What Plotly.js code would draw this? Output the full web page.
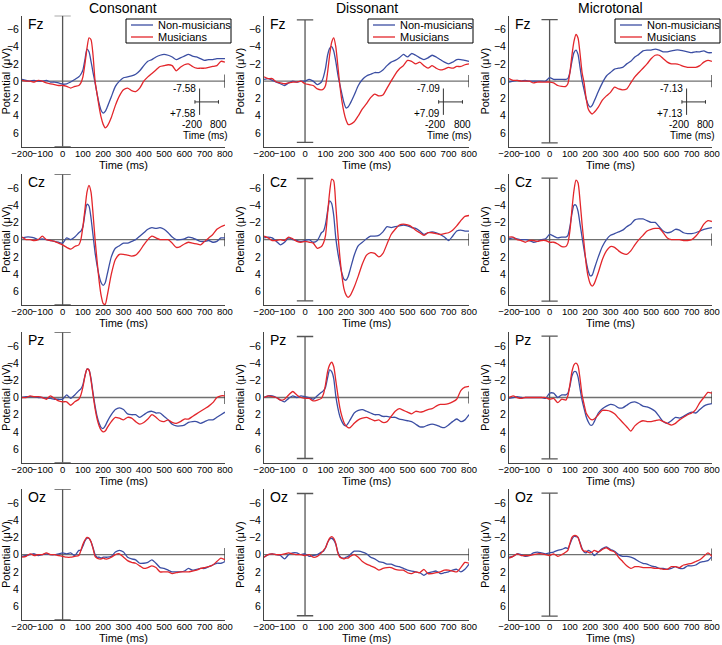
<!DOCTYPE html>
<html><head><meta charset="utf-8">
<script src="https://cdn.plot.ly/plotly-3.0.1.min.js"></script>
<style>body{margin:0;background:#fff}#chart{width:722px;height:645px}</style>
</head><body><div id="chart"></div>
<script>
// time points (ms)
const times = [-200,-180,-160,-140,-120,-100,-80,-60,-40,-20,0,20,40,60,80,
  90,100,110,120,130,140,150,160,170,180,190,200,210,220,
  240,260,280,300,320,340,360,380,400,420,440,460,480,500,520,540,560,580,600,620,640,660,680,700,720,740,760,780,800];

const conditions = ["Consonant","Dissonant","Microtonal"];
const electrodes = ["Fz","Cz","Pz","Oz"];
const groups = ["Non-musicians","Musicians"];
const scaleLimits = [7.58, 7.09, 7.13];
const xTickVals = [-200,-100,0,100,200,300,400,500,600,700,800];
const yTickVals = [-6,-4,-2,0,2,4,6];

// Consonant
const consonantFzNon = [-0.2,-0.1,0,-0.1,0,0,-0.1,0.1,0.1,0.2,0.35,0.3,0.1,-0.2,-0.5,
  -0.8,-1.3,-2.5,-3.7,-3.4,-2.3,-1.0,0.2,1.5,2.6,3.4,3.7,3.5,3.0,
  1.8,0.6,0,-0.4,-0.5,-0.6,-0.8,-1.2,-1.8,-2.3,-2.5,-2.8,-3.0,-3.1,-3.0,-2.8,-2.5,-2.7,-2.9,-3.1,-2.9,-2.8,-2.6,-2.4,-2.5,-2.5,-2.6,-2.6,-2.6];
const consonantFzMus = [-0.1,0,0,0.1,-0.1,0,0.2,0.3,0.4,0.5,0.5,0.6,0.8,0.6,0.5,
  0.2,-0.5,-2.0,-3.8,-5.0,-4.8,-3.0,0,1.5,3.0,4.2,5.0,5.4,5.2,
  4.2,2.8,1.7,1.0,0.8,1.1,1.2,0.8,0,-0.5,-0.9,-1.3,-1.7,-1.8,-1.9,-1.8,-1.2,-1.6,-1.9,-2.0,-1.7,-1.5,-1.5,-1.5,-1.6,-1.7,-1.8,-2.3,-2.2];
const consonantCzNon = [-0.2,-0.3,-0.3,-0.2,0,-0.1,0,0.1,0.2,0.3,0.4,-0.2,0,-0.3,-0.8,
  -1.0,-1.5,-3.0,-4.1,-3.9,-2.5,-0.5,1.5,3.0,4.2,5.0,5.3,5.0,4.0,
  2.0,1.0,0.7,0.4,0.4,0.2,0,-0.4,-0.8,-1.2,-1.4,-1.3,-1.4,-1.2,-0.8,-0.3,0,0,-0.1,-0.3,-0.2,0,0.2,0.2,0.1,0.3,0.2,-0.2,-0.2];
const consonantCzMus = [-0.3,0,0,0.1,0,-0.4,0,0.1,0.2,0.4,0.6,0.9,1.1,0.8,0.6,
  0,-1.5,-3.5,-5.5,-6.3,-5.5,-3.0,0,2.5,4.8,6.5,7.4,7.5,6.5,
  4.0,2.3,1.7,1.7,1.8,1.9,1.8,1.3,0.6,0,-0.4,-0.2,0,0,0,0.4,0.9,0.8,0.5,0.3,0.4,0.5,0.6,0.2,-0.2,-0.6,-1.2,-1.5,-1.7];
const consonantPzNon = [0,-0.1,-0.1,-0.1,0,0,0.1,0.1,0.2,0.2,0.2,-0.3,0.1,-0.3,-0.8,
  -1.0,-1.5,-2.5,-3.3,-3.2,-2.2,-0.5,1.0,2.2,3.0,3.5,3.6,3.3,2.8,
  2.0,1.4,1.2,1.4,1.9,2.0,2.0,2.3,2.0,1.7,1.6,1.8,1.8,2.2,2.6,3.1,3.3,3.3,3.2,2.9,2.8,2.8,3.0,2.8,2.6,2.6,2.3,2.0,1.7];
const consonantPzMus = [0,0,-0.2,-0.1,-0.1,0,0.2,-0.2,0.1,0.4,0.5,0.5,0.9,0.5,0.2,
  -0.3,-1.2,-2.5,-3.3,-3.2,-2.0,-0.3,1.3,2.5,3.3,3.8,4.0,3.9,3.5,
  2.8,2.3,2.4,2.6,2.3,2.4,2.8,3.1,2.9,2.5,2.0,2.3,2.7,2.8,2.6,2.9,3.0,2.8,2.5,2.5,2.2,1.9,1.6,1.3,1.0,0.6,0,-0.2,-0.2];
const consonantOzNon = [0.2,0.1,0,-0.1,0.1,0,-0.1,0,0,-0.1,-0.2,-0.1,-0.2,0.1,-0.5,
  -0.5,-1.0,-1.6,-1.9,-1.9,-1.5,-0.8,0,0.3,0.3,0.4,0.3,0.3,0.3,
  0.2,-0.3,-0.5,-0.3,0.3,0.5,0.6,1.0,1.0,0.9,0.6,1.0,1.5,1.6,1.8,2.0,2.0,2.0,1.9,1.6,1.8,1.7,1.6,1.6,1.4,1.2,1.0,1.0,0.8];
const consonantOzMus = [0.3,0.2,-0.1,0.1,0,0,-0.2,0,0,0.1,0.2,0.3,0.3,0.2,0.1,
  -0.5,-1.2,-1.7,-2.0,-1.9,-1.5,-0.7,0.2,0.4,0.5,0.5,0.4,0.5,0.5,
  0.3,0,-0.1,0.3,0.7,0.9,1.0,1.3,1.6,1.5,1.3,1.5,2.0,2.0,2.0,2.2,2.1,2.0,2.0,2.0,1.9,1.8,1.6,1.5,1.4,1.2,0.8,0.4,0.6];

// Dissonant
const dissonantFzNon = [-0.2,-0.3,-0.1,0.1,0.3,0.5,0.2,0,0.1,0,0,-0.2,0,0.4,0.1,
  -0.5,-1.5,-3.0,-3.8,-4.0,-3.5,-2.3,-0.8,0.4,1.5,2.5,3.1,3.0,2.6,
  1.6,0.5,-0.2,-0.6,-0.8,-1.0,-1.0,-1.3,-1.8,-2.2,-2.4,-2.7,-3.1,-2.8,-3.2,-3.0,-2.7,-2.5,-2.7,-3.0,-2.8,-2.5,-2.2,-2.0,-2.2,-2.5,-2.5,-2.4,-2.3];
const dissonantFzMus = [-0.5,-0.3,-0.3,0.1,0.2,0.3,0.2,0.1,0.1,0,0.3,0.4,0.5,0.9,1.0,
  0.9,0.5,-1.0,-3.0,-4.5,-5.0,-4.0,-1.8,0.5,2.3,3.6,4.5,5.0,5.0,
  4.7,4.0,3.2,2.6,1.9,1.5,1.7,1.6,0.8,0,-0.8,-1.4,-1.8,-2.4,-2.3,-2.0,-2.2,-1.8,-1.5,-1.8,-1.5,-1.3,-1.4,-1.6,-1.5,-1.7,-1.7,-1.9,-2.0];
const dissonantCzNon = [-0.2,-0.3,-0.2,0.2,0.6,0.3,-0.2,0,0.1,0.2,0.1,0,0.3,0.1,-0.8,
  -1.0,-1.8,-3.3,-4.5,-4.2,-2.8,-0.2,1.5,2.8,3.9,4.6,4.7,4.3,3.5,
  1.8,0.7,0.3,-0.1,-0.4,-0.4,-0.5,-0.9,-1.5,-1.4,-1.5,-1.6,-1.7,-1.6,-1.4,-1.3,-1.0,-0.6,-0.8,-0.9,-0.8,-0.6,-0.3,0.1,-0.4,-1.0,-1.1,-1.0,-1.0];
const dissonantCzMus = [-0.4,-0.2,0.1,0.1,0,0.1,-0.3,-0.1,0.2,0.3,0.2,0.3,0.4,1.0,0.8,
  0.4,-0.5,-3.0,-5.5,-7.0,-6.8,-4.0,-0.8,2.0,4.2,5.7,6.4,6.7,6.5,
  5.5,4.2,2.8,1.8,1.5,1.6,2.0,1.6,0.5,-0.6,-1.2,-1.7,-1.8,-1.7,-1.5,-1.1,-0.8,-0.5,-0.8,-0.8,-0.7,-0.6,-0.7,-0.8,-1.1,-1.6,-2.2,-2.7,-2.8];
const dissonantPzNon = [0,-0.2,-0.2,0,0.3,0.5,0.1,-0.2,0,-0.2,-0.1,0,0.2,-0.2,-0.6,
  -0.8,-1.2,-2.3,-3.2,-3.0,-2.2,-0.2,1.2,2.2,2.8,3.2,3.3,3.0,2.6,
  1.8,1.5,1.4,1.6,1.8,2.0,2.0,2.2,2.2,2.3,2.3,2.5,2.6,2.7,2.8,3.1,3.4,3.4,3.2,3.1,3.2,3.4,3.5,3.2,2.8,2.5,2.8,2.6,2.0];
const dissonantPzMus = [0,-0.2,-0.1,0,0.3,0.2,-0.3,-0.7,-0.3,0,0.1,0.1,0.4,0.3,0.1,
  -0.4,-1.5,-3.0,-3.8,-4.1,-3.6,-2.0,-0.3,1.2,2.2,2.9,3.3,3.5,3.5,
  3.0,2.6,2.4,2.3,2.5,2.7,2.6,2.9,2.8,2.2,1.6,1.3,1.5,1.7,1.9,1.6,1.7,1.6,1.4,1.3,1.0,0.8,0.8,0.7,0.5,0.2,-0.8,-1.2,-1.3];
const dissonantOzNon = [0.3,0,-0.1,0,0.1,0.5,0,-0.2,-0.2,0,-0.1,0.2,0.1,0,-0.3,
  -0.4,-0.8,-1.4,-1.8,-1.9,-1.7,-1.2,-0.3,0.2,0.4,0.4,0.3,0.2,0,
  -0.4,-0.4,-0.3,-0.1,0.3,0.5,0.8,0.9,1.1,1.1,1.3,1.4,1.6,1.8,1.9,2.0,2.1,2.4,2.1,2.0,1.9,2.2,2.1,2.0,1.8,1.7,2.0,1.7,1.1];
const dissonantOzMus = [0.3,0,-0.1,0,0,-0.1,-0.2,-0.1,0,0,0.1,0,0.3,0.2,-0.2,
  -0.5,-0.8,-1.4,-1.9,-2.1,-1.9,-1.3,-0.2,0.3,0.4,0.5,0.4,0.4,0.2,
  0,0.3,0.8,1.1,1.3,1.5,1.8,1.6,1.5,1.5,1.7,1.8,1.8,2.1,2.2,2.0,2.1,1.7,2.2,2.2,2.1,2.0,1.8,1.8,1.9,2.0,1.5,0.9,1.0];

// Microtonal
const microtonalFzNon = [0.1,0,-0.1,0,-0.1,0,0,0,0,0,-0.4,-0.2,-0.2,-0.2,-0.2,
  -0.3,-1.0,-2.3,-3.3,-3.6,-3.1,-1.6,-0.1,1.0,2.0,2.7,3.0,2.8,2.3,
  1.2,0.2,-0.6,-1.0,-1.4,-1.5,-1.6,-2.0,-2.3,-2.8,-3.1,-3.5,-3.6,-3.6,-3.7,-3.6,-3.4,-3.4,-3.5,-3.6,-3.6,-3.5,-3.4,-3.3,-3.4,-3.4,-3.5,-3.3,-3.3];
const microtonalFzMus = [-0.3,-0.1,-0.1,0,0,0,0.2,0.1,0.1,0.1,0.1,0.2,0.5,0.6,0.6,
  0.3,-1.0,-3.0,-4.6,-5.4,-5.0,-3.2,-1.0,0.2,2.0,3.2,3.6,3.8,3.6,
  3.0,2.2,1.7,1.3,0.7,0.9,1.0,0.9,0.2,-0.5,-1.0,-1.5,-2.0,-2.6,-3.0,-3.0,-2.6,-2.2,-2.0,-2.0,-1.9,-1.7,-1.6,-1.6,-1.6,-1.8,-2.2,-2.4,-2.3];
const microtonalCzNon = [-0.1,-0.2,-0.1,0,0,0.1,0.3,0.2,0,-0.1,-0.6,-0.4,-0.2,-0.3,-0.3,
  -0.5,-1.5,-3.0,-4.0,-4.0,-3.3,-1.8,-0.3,1.2,2.5,3.6,4.2,4.1,3.4,
  2.0,0.8,0,-0.5,-0.7,-0.9,-1.1,-1.5,-1.8,-2.3,-2.4,-2.4,-2.2,-2.0,-2.0,-1.5,-1.0,-0.8,-0.9,-1.2,-1.1,-0.8,-0.7,-0.7,-0.8,-1.0,-1.2,-1.3,-1.4];
const microtonalCzMus = [-0.3,-0.3,0,0.1,0.3,0.1,0.1,0.2,0.1,0.1,0.3,0.3,0.5,0.8,0.8,
  0.4,-1.0,-3.5,-5.7,-6.9,-6.6,-4.5,-1.8,0.5,2.8,4.3,5.1,5.4,5.1,
  3.8,2.3,1.3,0.8,0.9,1.3,1.6,1.7,1.3,0.6,0,-0.5,-1.0,-1.2,-1.3,-1.3,-0.8,-0.2,0,0,0,0.1,0.1,0,-0.4,-1.0,-1.8,-2.2,-2.1];
const microtonalPzNon = [0.1,0,-0.1,0,0,0,0,0,0,0.1,-0.5,-0.5,0,-0.3,-0.3,
  -0.5,-1.3,-2.5,-3.0,-3.0,-2.4,-1.0,0.3,1.3,2.2,2.8,3.2,3.2,2.8,
  1.8,1.3,1.0,0.8,0.9,1.2,1.2,0.9,0.6,0.5,0.7,1.0,1.1,1.3,1.6,2.2,2.8,3.0,2.7,2.3,2.4,2.2,1.9,1.7,1.8,1.4,1.0,0.8,0.7];
const microtonalPzMus = [0,-0.2,0,0.1,0,0,0,0,0,0,0.2,0.1,0.6,0.2,0.3,
  -0.2,-1.5,-3.0,-3.8,-4.0,-3.7,-2.2,-0.3,0.8,1.8,2.2,2.5,2.6,2.5,
  2.0,1.5,1.5,1.6,1.9,2.4,2.9,3.4,3.9,3.3,2.9,2.7,2.8,2.8,2.7,2.6,2.8,3.0,3.2,3.0,2.6,2.3,2.0,1.8,1.4,0.6,0,-0.6,-0.5];
const microtonalOzNon = [0.3,0.2,-0.1,0,0.2,0.1,-0.2,-0.3,-0.2,-0.1,-0.2,-0.3,-0.5,-0.6,-0.8,
  -0.7,-1.2,-1.8,-2.1,-2.1,-2.0,-1.4,-0.7,-0.3,-0.2,-0.5,-0.4,-0.2,0.1,
  -0.3,-0.7,-0.9,-0.6,-0.4,0,0.2,0.2,0.3,0.5,0.8,1.0,1.1,1.3,1.4,1.6,1.6,1.7,1.6,1.4,1.6,1.6,1.3,1.3,1.2,0.9,0.8,0.7,0.2];
const microtonalOzMus = [0.4,0.2,-0.1,0.1,0.1,0.1,0,-0.1,-0.1,0,0.1,-0.1,0.2,0,-0.3,
  -0.5,-1.3,-2.0,-2.2,-2.2,-2.0,-1.3,-0.6,-0.4,-0.4,-0.3,-0.2,-0.3,-0.5,
  -0.3,-0.6,-0.8,-0.5,-0.3,0.3,0.8,1.3,1.6,1.4,1.4,1.5,1.5,1.5,1.6,1.6,1.7,1.7,1.4,1.4,1.5,1.2,1.1,1.0,0.8,0.6,0.2,-0.2,0.2];

const series = {
  Consonant: {Fz:[consonantFzNon,consonantFzMus], Cz:[consonantCzNon,consonantCzMus], Pz:[consonantPzNon,consonantPzMus], Oz:[consonantOzNon,consonantOzMus]},
  Dissonant: {Fz:[dissonantFzNon,dissonantFzMus], Cz:[dissonantCzNon,dissonantCzMus], Pz:[dissonantPzNon,dissonantPzMus], Oz:[dissonantOzNon,dissonantOzMus]},
  Microtonal:{Fz:[microtonalFzNon,microtonalFzMus], Cz:[microtonalCzNon,microtonalCzMus], Pz:[microtonalPzNon,microtonalPzMus], Oz:[microtonalOzNon,microtonalOzMus]}
};

const FONT = 'Arial, "Liberation Sans", sans-serif';
const colors = ['#3b4ea3', '#e3262b'];
const colDomains = [[0.0305,0.3116],[0.3657,0.6496],[0.7050,0.9861]];
const rowDomains = [[0.7726,0.9757],[0.5271,0.7298],[0.2826,0.4848],[0.0388,0.2414]];
const yRange = [7.58, -7.58];
const legendLeftPx = [126, 368, 615];

const W = 722, H = 645;
const px = v => v / W, py = v => 1 - v / H;

const traces = [];
const layout = {
  width: W, height: H,
  margin: {l:0, r:0, t:0, b:0},
  paper_bgcolor: '#fff', plot_bgcolor: 'rgba(0,0,0,0)',
  font: {family: FONT, color: '#000', size: 10},
  showlegend: false,
  shapes: [], annotations: []
};

electrodes.forEach((el, r) => {
  conditions.forEach((cond, c) => {
    const k = r*3 + c + 1;
    const sx = k === 1 ? '' : String(k);
    const xa = 'x' + sx, ya = 'y' + sx;
    const lim = scaleLimits[c];
    series[cond][el].forEach((vals, g) => {
      if (vals.length !== times.length) throw new Error(cond+el+g+' length '+vals.length);
      traces.push({
        type: 'scatter', mode: 'lines', x: times, y: vals,
        xaxis: xa, yaxis: ya, name: groups[g],
        line: {color: colors[g], width: 1.3, shape: 'spline', smoothing: 0.6},
        hoverinfo: 'skip'
      });
    });
    layout['xaxis' + sx] = {
      domain: colDomains[c], anchor: ya, range: [-200, 800],
      tickvals: xTickVals, ticks: '', tickangle: 0, showgrid: false, zeroline: false,
      showline: true, linecolor: '#444', linewidth: 1,
      tickfont: {size: 9.5}, ticklabelstandoff: -2,
      title: {text: 'Time (ms)', font: {size: 11}, standoff: 0},
      automargin: false, fixedrange: true
    };
    layout['yaxis' + sx] = {
      domain: rowDomains[r], anchor: xa, range: yRange,
      tickvals: yTickVals, ticks: '', showgrid: false, zeroline: false,
      showline: true, linecolor: '#444', linewidth: 1,
      tickfont: {size: 10.5},
      title: {text: 'Potential (μV)', font: {size: 11}, standoff: 2},
      automargin: false, fixedrange: true
    };
    const L = (x0,y0,x1,y1,color,w) => layout.shapes.push({type:'line', xref:xa, yref:ya, x0, y0, x1, y1, line:{color, width:w}, layer:'below'});
    // baseline at zero with end cap
    L(-200, 0, 800, 0, '#707070', 1.3);
    L(800, -0.1*lim, 800, 0.1*lim, '#333', 1.3);
    // stimulus onset line with caps
    L(0, -lim, 0, lim, '#555', 1.3);
    L(-40, -lim, 40, -lim, '#555', 1.3);
    L(-40, lim, 40, lim, '#555', 1.3);
    // electrode label
    layout.annotations.push({xref: xa + ' domain', yref: ya + ' domain', x: 0.02, y: 0.94,
      xanchor: 'left', yanchor: 'middle', text: el, showarrow: false, font: {size: 14}});
    if (r === 0) {
      // column title
      layout.annotations.push({xref: 'paper', yref: 'paper', x: (colDomains[c][0]+colDomains[c][1])/2, y: py(8),
        xanchor: 'center', yanchor: 'middle', text: cond, showarrow: false, font: {size: 14}});
      // scale bar inset
      L(675, 0.85, 675, 3.9, '#333', 1);
      L(652, 2.4, 768, 2.4, '#333', 1);
      L(652, 2.2, 652, 2.6, '#333', 1);
      L(768, 2.2, 768, 2.6, '#333', 1);
      const A = (x, y, text, xanchor) => layout.annotations.push({xref: xa, yref: ya, x, y, text, xanchor, yanchor: 'middle', showarrow: false, font: {size: 10}});
      A(666, 0.8, '-' + lim.toFixed(2), 'right');
      A(666, 3.75, '+' + lim.toFixed(2), 'right');
      A(636, 5.0, '-200', 'center');
      A(767, 5.0, '800', 'center');
      A(705, 6.3, 'Time (ms)', 'center');
      // legend box (drawn)
      const lx = legendLeftPx[c];
      layout.shapes.push({type:'rect', xref:'paper', yref:'paper', x0:px(lx), x1:px(lx+105), y0:py(43), y1:py(19),
        line:{color:'#000', width:1}, fillcolor:'#fff', layer:'above'});
      groups.forEach((gname, g) => {
        const yy = 25 + g*12;
        layout.shapes.push({type:'line', xref:'paper', yref:'paper', x0:px(lx+5), x1:px(lx+27), y0:py(yy), y1:py(yy),
          line:{color:colors[g], width:1.3}, layer:'above'});
        layout.annotations.push({xref:'paper', yref:'paper', x:px(lx+30), y:py(yy), xanchor:'left', yanchor:'middle',
          text:gname, showarrow:false, font:{size:11}});
      });
    }
  });
});

Plotly.newPlot('chart', traces, layout, {staticPlot: true});
</script>
</body></html>
